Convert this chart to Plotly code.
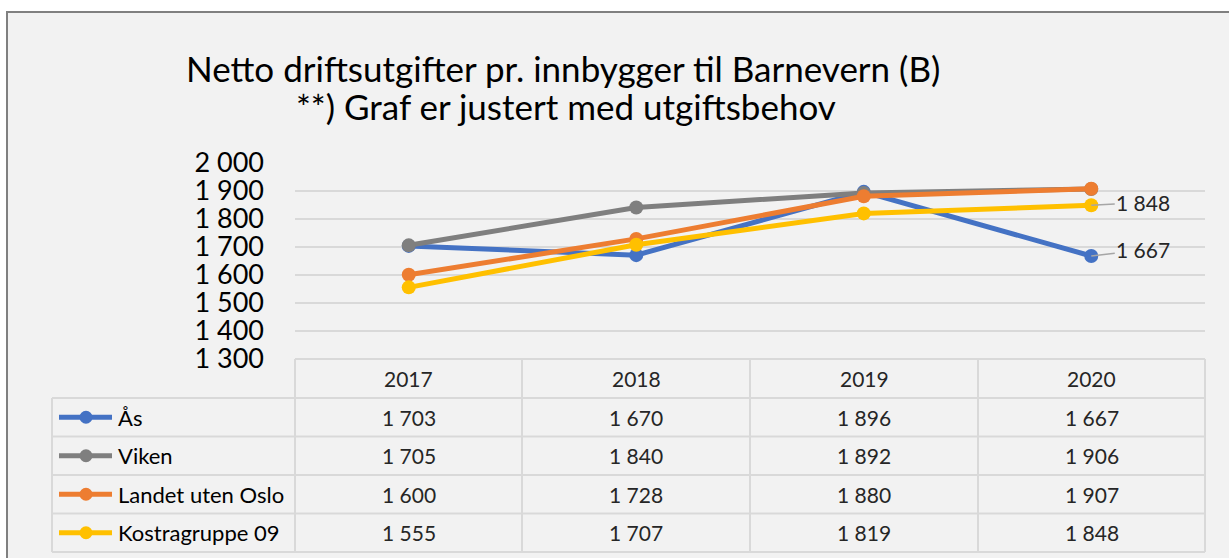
import plotly.graph_objects as go

# ---------------- data ----------------
years = ["2017", "2018", "2019", "2020"]
series_names = ["Ås", "Viken", "Landet uten Oslo", "Kostragruppe 09"]
aas = [1703, 1670, 1896, 1667]
viken = [1705, 1840, 1892, 1906]
landet = [1600, 1728, 1880, 1907]
kostra = [1555, 1707, 1819, 1848]
series_values = [aas, viken, landet, kostra]
y_ticks = [1300, 1400, 1500, 1600, 1700, 1800, 1900, 2000]
title_line1 = "Netto driftsutgifter pr. innbygger til Barnevern (B)"
title_line2 = "**) Graf er justert med utgiftsbehov"
labelled_series = ["Ås", "Kostragruppe 09"]

# ---------------- style ----------------
colors = ["#4472C4", "#7F7F7F", "#ED7D31", "#FFC000"]
FONT = "Lato, Carlito, Calibri, sans-serif"
W, H = 1229, 558
GRID = "#D9D9D9"
TABLE_FS = 21
LEGEND_FS = 22


def px(x):
    return x / W


def py(y):
    return 1 - y / H


def fmt(v):
    return f"{v:,}".replace(",", " ")


# layout geometry (pixels)
plot_x0, plot_x1 = 295, 1205
plot_y_top, plot_y_bot = 162.7, 358.8
col_x = [295, 522, 750, 978, 1205]
row_y = [359, 398, 436.5, 475, 513.5, 552]
legend_x0 = 52

fig = go.Figure()

for name, vals, c in zip(series_names, series_values, colors):
    fig.add_trace(go.Scatter(
        x=years, y=vals, name=name, mode="lines+markers",
        line=dict(color=c, width=5),
        marker=dict(color=c, size=14),
        showlegend=False, cliponaxis=False,
    ))

shapes = []
annotations = []

# outer frame
shapes.append(dict(type="rect", xref="paper", yref="paper",
                   x0=px(7), x1=px(1245), y0=py(12), y1=py(575),
                   fillcolor="#F2F2F2", line=dict(color="#808080", width=2),
                   layer="below"))

# table grid lines
lw = 2
shapes.append(dict(type="line", xref="paper", yref="paper",
                   x0=px(col_x[0]), x1=px(col_x[-1]), y0=py(row_y[0]), y1=py(row_y[0]),
                   line=dict(color=GRID, width=lw)))
for ry in row_y[1:]:
    shapes.append(dict(type="line", xref="paper", yref="paper",
                       x0=px(legend_x0), x1=px(col_x[-1]), y0=py(ry), y1=py(ry),
                       line=dict(color=GRID, width=lw)))
for cx in col_x:
    shapes.append(dict(type="line", xref="paper", yref="paper",
                       x0=px(cx), x1=px(cx), y0=py(row_y[0]), y1=py(row_y[-1]),
                       line=dict(color=GRID, width=lw)))
shapes.append(dict(type="line", xref="paper", yref="paper",
                   x0=px(legend_x0), x1=px(legend_x0), y0=py(row_y[1]), y1=py(row_y[-1]),
                   line=dict(color=GRID, width=lw)))

# header labels
for i, yr in enumerate(years):
    annotations.append(dict(xref="paper", yref="paper",
                            x=px((col_x[i] + col_x[i + 1]) / 2),
                            y=py((row_y[0] + row_y[1]) / 2),
                            text=yr, showarrow=False,
                            font=dict(family=FONT, size=TABLE_FS, color="#262626"),
                            xanchor="center", yanchor="middle"))

# body rows
for r, (name, vals, c) in enumerate(zip(series_names, series_values, colors)):
    yc = (row_y[r + 1] + row_y[r + 2]) / 2
    shapes.append(dict(type="line", xref="paper", yref="paper",
                       x0=px(59), x1=px(112), y0=py(yc), y1=py(yc),
                       line=dict(color=c, width=5)))
    shapes.append(dict(type="circle", xref="paper", yref="paper",
                       x0=px(86 - 6.5), x1=px(86 + 6.5), y0=py(yc - 6.5), y1=py(yc + 6.5),
                       fillcolor=c, line=dict(color=c, width=0)))
    annotations.append(dict(xref="paper", yref="paper",
                            x=px(116), y=py(yc), text=name, showarrow=False,
                            font=dict(family=FONT, size=LEGEND_FS, color="#000000"),
                            xanchor="left", yanchor="middle"))
    for i, v in enumerate(vals):
        annotations.append(dict(xref="paper", yref="paper",
                                x=px((col_x[i] + col_x[i + 1]) / 2), y=py(yc),
                                text=fmt(v), showarrow=False,
                                font=dict(family=FONT, size=TABLE_FS, color="#262626"),
                                xanchor="center", yanchor="middle"))

# data labels at last point
last = len(years) - 1
for name, vals in zip(series_names, series_values):
    if name in labelled_series:
        annotations.append(dict(xref="x", yref="y", x=last, y=vals[-1],
                                text=fmt(vals[-1]), showarrow=True,
                                arrowhead=0, arrowwidth=1.5, arrowcolor="#A6A6A6",
                                ax=52, ay=-3 if vals[-1] > 1800 else -6,
                                font=dict(family=FONT, size=TABLE_FS, color="#262626")))

# titles
annotations.append(dict(xref="paper", yref="paper", x=px(563), y=py(68),
                        text=title_line1, showarrow=False,
                        font=dict(family=FONT, size=35, color="#000000"),
                        xanchor="center", yanchor="middle"))
annotations.append(dict(xref="paper", yref="paper", x=px(566), y=py(106),
                        text=title_line2, showarrow=False,
                        font=dict(family=FONT, size=35, color="#000000"),
                        xanchor="center", yanchor="middle"))

fig.update_layout(
    width=W, height=H, margin=dict(l=0, r=0, t=0, b=0, pad=0),
    paper_bgcolor="white", plot_bgcolor="rgba(0,0,0,0)",
    separators=", ",
    shapes=shapes, annotations=annotations,
    xaxis=dict(domain=[px(plot_x0), px(plot_x1)], type="category",
               range=[-0.5, 3.5], showticklabels=False, showgrid=False,
               zeroline=False, showline=False, ticks="", automargin=False),
    yaxis=dict(domain=[py(plot_y_bot), py(plot_y_top)], range=[1300, 2000],
               tickvals=y_ticks, tickformat=",d", showgrid=True,
               gridcolor=GRID, gridwidth=1.5, zeroline=False, showline=False,
               ticks="", ticklabelstandoff=30, automargin=False,
               tickfont=dict(family=FONT, size=27, color="#000000")),
    hovermode=False,
)

fig.write_html("out.html", config={"displayModeBar": False},
               post_script="document.body.style.margin='0';document.body.style.overflow='hidden';")
